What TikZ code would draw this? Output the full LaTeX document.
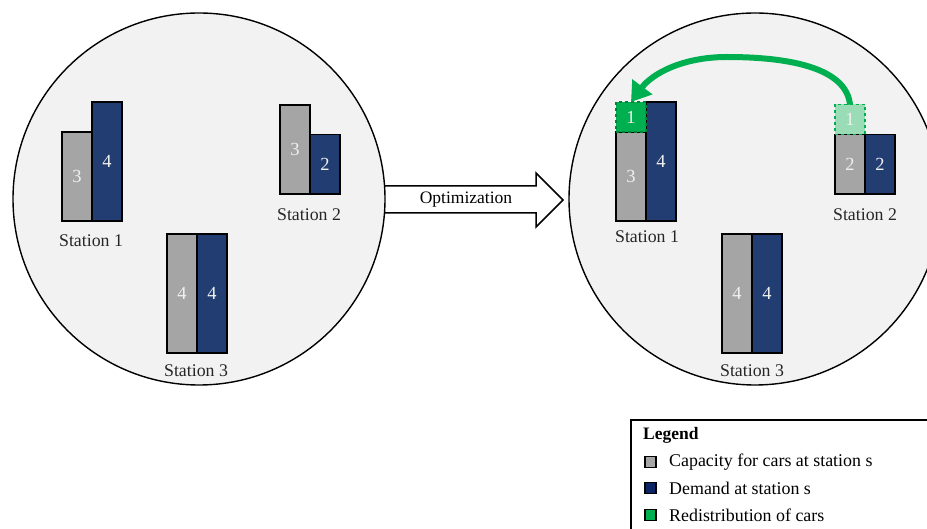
\documentclass[tikz,border=0pt]{standalone}
\usepackage{fontspec}
\setmainfont{Liberation Serif}
\usetikzlibrary{arrows.meta}
\definecolor{bg}{HTML}{F2F2F2}
\definecolor{capgray}{HTML}{A5A5A5}
\definecolor{demblue}{HTML}{223D72}
\definecolor{redgreen}{HTML}{00B050}
\definecolor{lightgreen}{HTML}{99DCB6}
\definecolor{legblue}{HTML}{0A2464}
\begin{document}
\begin{tikzpicture}[x=1pt,y=-1pt,
  lbl/.style={font=\fontsize{17.8}{20}\selectfont, inner sep=0pt, text=black!85},
  barbox/.style={draw=black, line width=1.8pt, minimum width=30pt, inner sep=0pt, outer sep=0pt,
    text=white!94!black, font=\fontsize{18.5}{20}\selectfont, anchor=south west},
  capbar/.style={barbox, fill=capgray},
  dembar/.style={barbox, fill=demblue},
  movedbox/.style={barbox, fill=redgreen, draw=redgreen!75!black, dashed, line width=1.5pt, minimum height=30pt},
  sourcebox/.style={barbox, fill=lightgreen, draw=redgreen, dashed, line width=1.5pt, minimum height=30pt},
  region/.style={circle, draw=black, line width=1.4pt, fill=bg, minimum size=372pt, inner sep=0pt},
  legsq/.style={draw=black, line width=1.5pt, minimum size=11pt, inner sep=0pt},
  legtxt/.style={font=\fontsize{17.9}{20}\selectfont, inner sep=0pt, anchor=west},
  flow/.style={draw=redgreen, line width=6pt, -{Triangle[length=19pt,width=24pt]}}
]
\useasboundingbox (0,0) rectangle (927,529);
\clip (0,0) rectangle (927,529);
\fill[white] (0,0) rectangle (927,529);

% optimization arrow (behind the circles)
\draw[line width=1.5pt, fill=white, line join=miter]
  (378,186) -- (536,186) -- (536,173) -- (563,200) -- (536,227) -- (536,213) -- (378,213) -- cycle;

\node[region] (c1) at (199,199) {};
\node[region] (c2) at (755,199) {};
\node[font=\fontsize{17.5}{20}\selectfont, inner sep=0pt] (opt) at (466,200) {Optimization};

% ---- left region
\node[capbar, minimum height=89pt]  (l1c) at (62,221) {3};
\node[dembar, minimum height=119pt] (l1d) at (92,221) {4};
\node[lbl] (l1t) at (91,241) {Station 1};
\node[capbar, minimum height=89pt]  (l2c) at (280,194) {3};
\node[dembar, minimum height=59.5pt] (l2d) at (310,194) {2};
\node[lbl] (l2t) at (309,215) {Station 2};
\node[capbar, minimum height=119pt] (l3c) at (167,353) {4};
\node[dembar, minimum height=119pt] (l3d) at (197,353) {4};
\node[lbl] (l3t) at (196,371) {Station 3};

% ---- right region
\node[capbar, minimum height=89pt]  (r1c) at (616,221) {3};
\node[dembar, minimum height=119pt] (r1d) at (646,221) {4};
\node[movedbox] (r1g) at (616,132) {1};
\node[lbl] (r1t) at (647,237) {Station 1};
\node[capbar, minimum height=59.5pt] (r2c) at (835,194) {2};
\node[dembar, minimum height=59.5pt] (r2d) at (865,194) {2};
\node[sourcebox] (r2g) at (835,134.5) {1};
\node[lbl] (r2t) at (865,215) {Station 2};
\node[capbar, minimum height=119pt] (r3c) at (722,353) {4};
\node[dembar, minimum height=119pt] (r3d) at (752,353) {4};
\node[lbl] (r3t) at (752,371) {Station 3};

\coordinate (peak) at (727,57);
\draw[flow] (r2g.north) .. controls (846,68) and (790,57) .. (peak)
  .. controls (682,57) and (652,74) .. (r1g.north);

% ---- legend
\draw[line width=1.5pt] (631,420) rectangle (945,545);
\node[legtxt, font=\bfseries\fontsize{17.5}{20}\selectfont] (legt) at (643,435) {Legend};
\node[legsq, fill=capgray] (lq1) at (650.5,462) {};
\node[legtxt] (lt1) at (669,462) {Capacity for cars at station s};
\node[legsq, fill=legblue] (lq2) at (650.5,488) {};
\node[legtxt] (lt2) at (669,488) {Demand at station s};
\node[legsq, fill=redgreen] (lq3) at (650.5,515) {};
\node[legtxt] (lt3) at (669,515) {Redistribution of cars};
\end{tikzpicture}
\end{document}
